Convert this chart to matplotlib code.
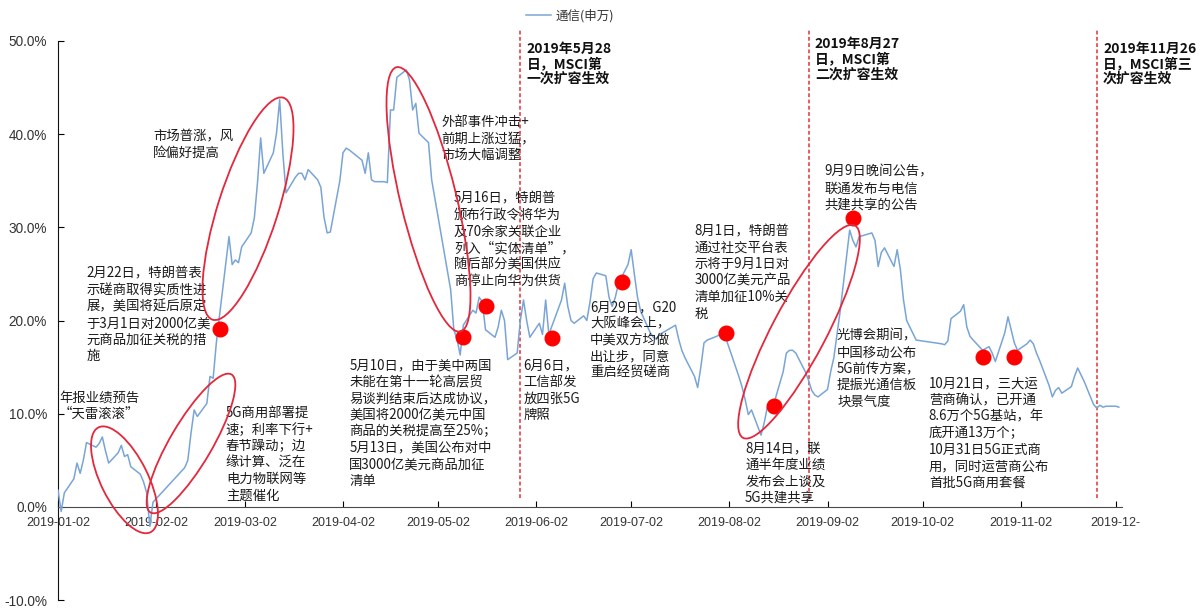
import matplotlib
matplotlib.use('Agg')
import matplotlib.pyplot as plt
import matplotlib.dates as mdates
from matplotlib.patches import Ellipse
from matplotlib.transforms import IdentityTransform
from matplotlib.lines import Line2D
import pandas as pd

CJK = ['Noto Sans CJK SC', 'DejaVu Sans']

# 通信(申万) 2019 年内涨幅 (%)
dates = ['2019-01-02', '2019-01-03', '2019-01-04', '2019-01-07', '2019-01-08', '2019-01-09',
         '2019-01-10', '2019-01-11', '2019-01-14', '2019-01-15', '2019-01-16', '2019-01-17',
         '2019-01-18', '2019-01-21', '2019-01-22', '2019-01-23', '2019-01-24', '2019-01-25',
         '2019-01-28', '2019-01-29', '2019-01-30', '2019-01-31', '2019-02-01', '2019-02-11',
         '2019-02-12', '2019-02-13', '2019-02-14', '2019-02-15', '2019-02-18', '2019-02-19',
         '2019-02-20', '2019-02-21', '2019-02-22', '2019-02-25', '2019-02-26', '2019-02-27',
         '2019-02-28', '2019-03-01', '2019-03-04', '2019-03-05', '2019-03-06', '2019-03-07',
         '2019-03-08', '2019-03-11', '2019-03-12', '2019-03-13', '2019-03-14', '2019-03-15',
         '2019-03-18', '2019-03-19', '2019-03-20', '2019-03-21', '2019-03-22', '2019-03-25',
         '2019-03-26', '2019-03-27', '2019-03-28', '2019-03-29', '2019-04-01', '2019-04-02',
         '2019-04-03', '2019-04-04', '2019-04-08', '2019-04-09', '2019-04-10', '2019-04-11',
         '2019-04-12', '2019-04-15', '2019-04-16', '2019-04-17', '2019-04-18', '2019-04-19',
         '2019-04-22', '2019-04-23', '2019-04-24', '2019-04-25', '2019-04-26', '2019-04-29',
         '2019-04-30', '2019-05-06', '2019-05-07', '2019-05-08', '2019-05-09', '2019-05-10',
         '2019-05-13', '2019-05-14', '2019-05-15', '2019-05-16', '2019-05-17', '2019-05-20',
         '2019-05-21', '2019-05-22', '2019-05-23', '2019-05-24', '2019-05-27', '2019-05-28',
         '2019-05-29', '2019-05-30', '2019-05-31', '2019-06-03', '2019-06-04', '2019-06-05',
         '2019-06-06', '2019-06-10', '2019-06-11', '2019-06-12', '2019-06-13', '2019-06-14',
         '2019-06-17', '2019-06-18', '2019-06-19', '2019-06-20', '2019-06-21', '2019-06-24',
         '2019-06-25', '2019-06-26', '2019-06-27', '2019-06-28', '2019-07-01', '2019-07-02',
         '2019-07-03', '2019-07-04', '2019-07-05', '2019-07-08', '2019-07-09', '2019-07-10',
         '2019-07-11', '2019-07-12', '2019-07-15', '2019-07-16', '2019-07-17', '2019-07-18',
         '2019-07-19', '2019-07-22', '2019-07-23', '2019-07-24', '2019-07-25', '2019-07-26',
         '2019-07-29', '2019-07-30', '2019-07-31', '2019-08-01', '2019-08-02', '2019-08-05',
         '2019-08-06', '2019-08-07', '2019-08-08', '2019-08-09', '2019-08-12', '2019-08-13',
         '2019-08-14', '2019-08-15', '2019-08-16', '2019-08-19', '2019-08-20', '2019-08-21',
         '2019-08-22', '2019-08-23', '2019-08-26', '2019-08-27', '2019-08-28', '2019-08-29',
         '2019-08-30', '2019-09-02', '2019-09-03', '2019-09-04', '2019-09-05', '2019-09-06',
         '2019-09-09', '2019-09-10', '2019-09-11', '2019-09-12', '2019-09-16', '2019-09-17',
         '2019-09-18', '2019-09-19', '2019-09-20', '2019-09-23', '2019-09-24', '2019-09-25',
         '2019-09-26', '2019-09-27', '2019-09-30', '2019-10-08', '2019-10-09', '2019-10-10',
         '2019-10-11', '2019-10-14', '2019-10-15', '2019-10-16', '2019-10-17', '2019-10-18',
         '2019-10-21', '2019-10-22', '2019-10-23', '2019-10-24', '2019-10-25', '2019-10-28',
         '2019-10-29', '2019-10-30', '2019-10-31', '2019-11-01', '2019-11-04', '2019-11-05',
         '2019-11-06', '2019-11-07', '2019-11-08', '2019-11-11', '2019-11-12', '2019-11-13',
         '2019-11-14', '2019-11-15', '2019-11-18', '2019-11-19', '2019-11-20', '2019-11-21',
         '2019-11-22', '2019-11-25', '2019-11-26', '2019-11-27', '2019-11-28', '2019-11-29',
         '2019-12-02', '2019-12-03']
values = [1.8, -0.5, 1.5, 3.0, 4.7, 3.6,
          5.0, 6.9, 6.4, 6.8, 7.5, 6.0,
          4.7, 5.8, 6.6, 5.4, 5.6, 4.3,
          3.5, 2.7, 1.5, -2.1, 0.5, 4.2,
          5.0, 7.9, 10.4, 9.7, 11.1, 14.0,
          13.8, 17.6, 20.5, 29.0, 26.0, 26.5,
          26.2, 27.9, 29.4, 31.0, 34.8, 39.6,
          35.8, 38.0, 40.1, 43.7, 38.0, 33.7,
          35.4, 35.8, 35.8, 35.1, 36.2, 35.1,
          34.3, 31.1, 29.4, 29.5, 35.0, 38.0,
          38.5, 38.3, 37.2, 35.8, 38.0, 35.1,
          34.9, 34.9, 34.8, 42.6, 42.6, 46.1,
          46.9, 45.8, 42.6, 43.3, 40.1, 39.1,
          35.1, 23.3, 19.0, 18.0, 16.3, 19.5,
          21.1, 20.8, 22.5, 22.0, 19.0, 18.2,
          19.3, 21.1, 20.0, 15.8, 16.5, 20.0,
          22.2, 20.0, 18.2, 19.7, 18.5, 22.2,
          18.5, 22.2, 24.0, 21.5, 20.0, 19.7,
          20.5, 20.0, 22.0, 24.5, 25.1, 24.8,
          22.5, 21.5, 22.5, 24.0, 26.0, 27.6,
          25.0, 22.5, 21.0, 18.7, 18.2, 18.0,
          18.5, 18.7, 19.3, 19.5, 18.0, 16.8,
          16.0, 14.0, 12.8, 15.0, 17.6, 17.9,
          18.3, 18.5, 18.7, 18.0, 17.0, 14.0,
          12.9, 11.5, 9.9, 10.4, 7.7, 9.0,
          10.7, 10.2, 11.0, 14.5, 16.5, 16.8,
          16.8, 16.5, 14.5, 13.6, 12.5, 12.0,
          11.8, 12.6, 14.5, 16.0, 18.5, 21.0,
          29.7, 28.6, 27.9, 29.0, 29.4, 28.6,
          25.8, 27.3, 27.8, 25.8, 27.6, 25.5,
          22.2, 20.0, 17.9, 17.5, 17.4, 17.8,
          20.2, 21.0, 21.7, 19.3, 18.3, 17.9,
          16.8, 17.0, 17.2, 16.5, 15.6, 18.7,
          20.4, 19.0, 17.6, 16.8, 17.5, 17.9,
          17.5, 16.5, 15.7, 13.0, 11.8, 12.5,
          12.8, 12.2, 12.9, 14.0, 14.9, 14.2,
          13.5, 11.0, 10.6, 10.9, 10.7, 10.8,
          10.8, 10.7]

# 事件标记点
dot_dates = ['2019-02-22', '2019-05-10', '2019-05-17', '2019-06-07', '2019-06-29',
             '2019-08-01', '2019-08-16', '2019-09-10', '2019-10-21', '2019-10-31']
dot_values = [19.1, 18.2, 21.6, 18.1, 24.1, 18.7, 10.8, 31.0, 16.1, 16.1]

# MSCI 扩容生效日
msci_dates = ['2019-05-28', '2019-08-27', '2019-11-26']

tick_dates = ['2019-01-02', '2019-02-02', '2019-03-02', '2019-04-02', '2019-05-02', '2019-06-02',
              '2019-07-02', '2019-08-02', '2019-09-02', '2019-10-02', '2019-11-02', '2019-12-02']
tick_labels = ['2019-01-02', '2019-02-02', '2019-03-02', '2019-04-02', '2019-05-02', '2019-06-02',
               '2019-07-02', '2019-08-02', '2019-09-02', '2019-10-02', '2019-11-02', '2019-12-']

# 注释文字: (日期, 位置, 文字)
notes = [
    ('2019-01-11', 25.75, '2月22日，特朗普表\n示磋商取得实质性进\n展，美国将延后原定\n于3月1日对2000亿美\n元商品加征关税的措\n施'),
    ('2019-02-01', 40.5, '市场普涨，风\n险偏好提高'),
    ('2019-02-24', 10.8, '5G商用部署提\n速；利率下行+\n春节躁动；边\n缘计算、泛在\n电力物联网等\n主题催化'),
    ('2019-05-03', 42.1, '外部事件冲击+\n前期上涨过猛，\n市场大幅调整'),
    ('2019-05-07', 33.8, '5月16日，特朗普\n颁布行政令将华为\n及70余家关联企业\n列入“实体清单”，\n随后部分美国供应\n商停止向华为供货'),
    ('2019-04-04', 15.9, '5月10日，由于美中两国\n未能在第十一轮高层贸\n易谈判结束后达成协议，\n美国将2000亿美元中国\n商品的关税提高至25%；\n5月13日，美国公布对中\n国3000亿美元商品加征\n清单'),
    ('2019-05-29', 15.9, '6月6日，\n工信部发\n放四张5G\n牌照'),
    ('2019-06-19', 22.2, '6月29日，G20\n大阪峰会上，\n中美双方均做\n出让步，同意\n重启经贸磋商'),
    ('2019-07-22', 30.3, '8月1日，特朗普\n通过社交平台表\n示将于9月1日对\n3000亿美元产品\n清单加征10%关\n税'),
    ('2019-08-07', 7.0, '8月14日，联\n通半年度业绩\n发布会上谈及\n5G共建共享'),
    ('2019-09-01', 36.7, '9月9日晚间公告，\n联通发布与电信\n共建共享的公告'),
    ('2019-09-05', 19.1, '光博会期间，\n中国移动公布\n5G前传方案，\n提振光通信板\n块景气度'),
    ('2019-10-04', 13.95, '10月21日，三大运\n营商确认，已开通\n8.6万个5G基站，年\n底开通13万个；\n10月31日5G正式商\n用，同时运营商公布\n首批5G商用套餐'),
]
msci_notes = [
    ('2019-05-30', 49.9, '2019年5月28\n日，MSCI第\n一次扩容生效'),
    ('2019-08-29', 50.4, '2019年8月27\n日，MSCI第\n二次扩容生效'),
    ('2019-11-28', 49.9, '2019年11月26\n日，MSCI第三\n次扩容生效'),
]

# 红圈: (中心日期, 中心值, 长轴px, 短轴px, 角度)
ellipses = [
    ('2019-01-23', 2.9, 117, 47, -63.6),
    ('2019-02-13', 6.8, 160, 42, 59.6),
    ('2019-03-03', 32.0, 233, 60, 72.3),
    ('2019-04-29', 33.0, 272, 56, -76.4),
    ('2019-08-24', 18.8, 240, 54, 62.2),
]

fig = plt.figure(figsize=(12.01, 6.08), dpi=100)
ax = fig.add_axes([58 / 1201, 8 / 608, 1064 / 1201, 559 / 608])

line_color = '#79a5d6'
ax.plot(pd.to_datetime(dates), values, color=line_color, lw=1.1, zorder=3)
ax.plot(pd.to_datetime(dot_dates), dot_values, 'o', color='#ff0000', ms=10.5, zorder=4)

ax.vlines(pd.to_datetime(msci_dates), 1, 51.2, colors='#e0303c', linestyles=(0, (2.5, 1.6)),
          lw=1.1, clip_on=False, zorder=2)

ax.set_xlim(pd.Timestamp('2019-01-02'), pd.Timestamp('2019-12-04'))
ax.set_ylim(-10, 50)
ax.set_yticks(range(-10, 51, 10))
ax.set_yticklabels(['%.1f%%' % v for v in range(-10, 51, 10)])
ax.set_xticks(pd.to_datetime(tick_dates))
ax.set_xticklabels(tick_labels)

for s in ['top', 'right']:
    ax.spines[s].set_visible(False)
ax.spines['bottom'].set_position(('data', 0))
ax.spines['bottom'].set_color('#4a4a4a')
ax.spines['left'].set_color('#111111')
ax.tick_params(direction='in', length=4, labelcolor='#333333')
ax.tick_params(axis='x', pad=7, labelsize=9)
ax.tick_params(axis='y', pad=8, labelsize=9.8)
for lab in ax.get_xticklabels() + ax.get_yticklabels():
    lab.set_family(['Liberation Sans', 'DejaVu Sans'])

ax.text(pd.Timestamp('2019-01-15'), 12.45, '年报业绩预告\n“天雷滚滚”', ha='center', va='top',
        fontsize=9.6, family=CJK, linespacing=1.22, color='#1a1a1a')
for d, v, t in notes:
    ax.text(pd.Timestamp(d), v, t, ha='left', va='top', fontsize=9.6, family=CJK,
            linespacing=1.22, color='#1a1a1a')
for d, v, t in msci_notes:
    ax.text(pd.Timestamp(d), v, t, ha='left', va='top', fontsize=10, family=CJK,
            fontweight='bold', linespacing=1.1, color='#111111')

for d, v, w, h, ang in ellipses:
    cx, cy = ax.transData.transform((mdates.date2num(pd.Timestamp(d)), v))
    fig.add_artist(Ellipse((cx, cy), w, h, angle=ang, transform=IdentityTransform(),
                           fill=False, ec='#e3283c', lw=1.3, zorder=5))

handle = Line2D([], [], color=line_color, lw=1.1)
fig.legend([handle], ['通信(申万)'], loc='center', bbox_to_anchor=(570 / 1201, 1 - 16 / 608),
           frameon=False, prop={'family': CJK, 'size': 9}, handlelength=2.0, handletextpad=0.4,
           labelcolor='#333333')

fig.savefig('out.png', dpi=100)
